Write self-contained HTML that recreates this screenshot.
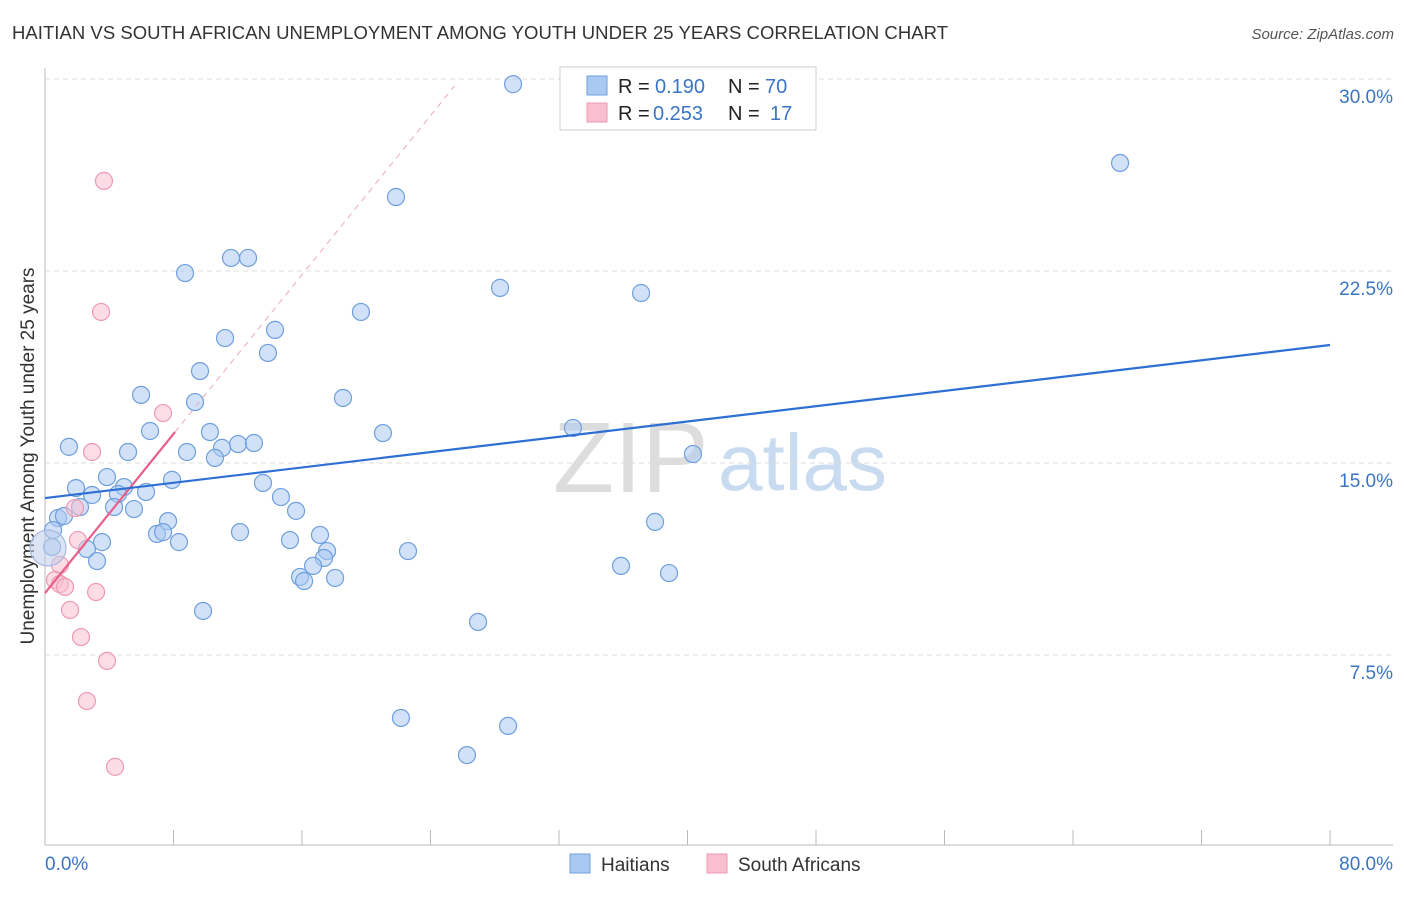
<!DOCTYPE html>
<html><head><meta charset="utf-8"><style>
body{margin:0;background:#fff;font-family:"Liberation Sans",sans-serif}
svg text{font-family:"Liberation Sans",sans-serif}
</style></head><body>
<svg id="c" width="1406" height="892">
<text x="12" y="39" font-size="18.5" fill="#333" textLength="936">HAITIAN VS SOUTH AFRICAN UNEMPLOYMENT AMONG YOUTH UNDER 25 YEARS CORRELATION CHART</text>
<text x="1394" y="39" font-size="15" fill="#555" font-style="italic" text-anchor="end">Source: ZipAtlas.com</text>
<text x="34" y="456" font-size="19" fill="#333" text-anchor="middle" transform="rotate(-90 34 456)">Unemployment Among Youth under 25 years</text>
<text x="553" y="492" font-size="100" fill="#ddd" font-family="Liberation Serif">ZIP</text>
<text x="718" y="490" font-size="80" fill="#c9dbf0">atlas</text>
<g id="grid"></g><g id="marks"></g>
<g>
<rect x="560" y="67" width="256" height="63" fill="#fff" stroke="#ccc"/>
<rect x="587" y="76" width="20" height="19" fill="#a9c9f2" stroke="#6f9fdc"/>
<rect x="587" y="103" width="20" height="19" fill="#f9bfd0" stroke="#ee9ab3"/>
<text x="618" y="93" font-size="20" fill="#222">R =</text><text x="655" y="93" font-size="20" fill="#3a75c4">0.190</text>
<text x="728" y="93" font-size="20" fill="#222">N =</text><text x="765" y="93" font-size="20" fill="#3a75c4">70</text>
<text x="618" y="120" font-size="20" fill="#222">R =</text><text x="653" y="120" font-size="20" fill="#3a75c4">0.253</text>
<text x="728" y="120" font-size="20" fill="#222">N =</text><text x="770" y="120" font-size="20" fill="#3a75c4">17</text>
</g>
<g>
<rect x="570" y="854" width="20" height="19" fill="#a9c9f2" stroke="#6f9fdc"/>
<text x="601" y="871" font-size="19" fill="#333">Haitians</text>
<rect x="707" y="854" width="20" height="19" fill="#f9bfd0" stroke="#ee9ab3"/>
<text x="738" y="871" font-size="19" fill="#333">South Africans</text>
</g>
</svg>
<script>
const xTicks=[0,8,16,24,32,40,48,56,64,72,80];
const yTicks=[7.5,15,22.5,30];
const haitianX=[29.14,66.93,21.85,8.72,11.58,12.64,28.33,37.11,19.67,14.32,11.21,13.88,9.65,5.98,18.55,9.34,6.54,10.27,1.49,5.17,8.84,12.02,13.01,11.02,21.04,32.87,40.34,10.58,3.86,7.91,13.57,4.92,1.93,2.93,6.29,4.54,14.69,4.30,2.18,5.54,15.63,0.81,1.18,7.66,37.98,0.50,6.97,7.35,12.14,17.12,8.34,3.55,15.25,2.61,17.56,22.60,0.44,3.24,17.37,16.69,35.86,38.85,15.88,16.13,18.06,9.84,26.96,22.16,28.83,26.27];
const haitianY=[29.80,26.72,25.39,22.42,23.01,23.01,21.84,21.64,20.90,20.20,19.88,19.30,18.59,17.66,17.54,17.38,16.25,16.21,15.63,15.43,15.43,15.74,15.78,15.59,16.17,16.37,15.35,15.20,14.45,14.34,14.22,14.06,14.02,13.75,13.87,13.79,13.67,13.28,13.28,13.20,13.13,12.85,12.93,12.73,12.70,12.38,12.23,12.30,12.30,12.19,11.91,11.91,11.99,11.64,11.56,11.56,11.72,11.17,11.29,10.98,10.98,10.70,10.55,10.39,10.51,9.22,8.79,5.04,4.73,3.59];
const southAfricanX=[3.67,3.49,7.35,2.93,1.87,2.05,0.93,0.62,0.93,1.25,3.18,1.56,2.24,3.86,2.61,4.36];
const southAfricanY=[26.02,20.90,16.95,15.43,13.24,11.99,11.02,10.43,10.27,10.16,9.96,9.26,8.20,7.27,5.70,3.13];
const haitianTrend=[13.63,19.61]; // y at x=0, x=80
const saTrend=[9.92,0.777]; // intercept, slope
const X=v=>45+v/80*1285, Y=v=>847-v*25.6;
const NS='http://www.w3.org/2000/svg';
function mk(t,a,p){const e=document.createElementNS(NS,t);for(const k in a)e.setAttribute(k,a[k]);p.appendChild(e);return e;}
const g=document.getElementById('grid'), m=document.getElementById('marks');
mk('line',{x1:45,y1:845,x2:1393,y2:845,stroke:'#bbb'},g);
mk('line',{x1:45,y1:68,x2:45,y2:845,stroke:'#bbb'},g);
xTicks.forEach(t=>{const l=mk('line',{x1:X(t),y1:830,x2:X(t),y2:845,stroke:'#bbb'},g);

});
[[0,'0.0%',45,'start'],[80,'80.0%',1393,'end']].forEach(a=>{const t=mk('text',{x:a[2],y:870,'font-size':19,fill:'#3a75c4','text-anchor':a[3]},g);t.textContent=a[1];

});
yTicks.forEach(t=>{const l=mk('line',{x1:45,y1:Y(t),x2:1393,y2:Y(t),stroke:'#ddd','stroke-dasharray':'5,4'},g);


const tx=mk('text',{x:1393,y:Y(t)+24,'font-size':19,fill:'#3a75c4','text-anchor':'end'},g);tx.textContent=t.toFixed(1)+'%';

});
function dot(x,y,r,f,s,n){const c=mk('circle',{cx:X(x),cy:Y(y),r:r,fill:f,'fill-opacity':0.55,stroke:s,'stroke-width':1.2},m);

}
haitianX.forEach((x,i)=>dot(x,haitianY[i],8.5,'#a9c9f2','#6f9fdc','haitian-point'));
southAfricanX.forEach((x,i)=>dot(x,southAfricanY[i],8.5,'#f9bfd0','#ee9ab3','south-african-point'));
dot(0.19,11.68,18,'#c0cdea','#a8b8e0','overlap-point');
const d=mk('line',{x1:X(8.09),y1:Y(saTrend[0]+saTrend[1]*8.09),x2:X(25.5),y2:Y(saTrend[0]+saTrend[1]*25.5),stroke:'#f0a8bc','stroke-dasharray':'6,5','stroke-width':1},m);


const p=mk('line',{x1:X(0),y1:Y(saTrend[0]),x2:X(8.09),y2:Y(saTrend[0]+saTrend[1]*8.09),stroke:'#e8608a','stroke-width':2.2},m);


const b=mk('line',{x1:X(0),y1:Y(haitianTrend[0]),x2:X(80),y2:Y(haitianTrend[1]),stroke:'#2e6fd4','stroke-width':2.2},m);


</script>
</body></html>
